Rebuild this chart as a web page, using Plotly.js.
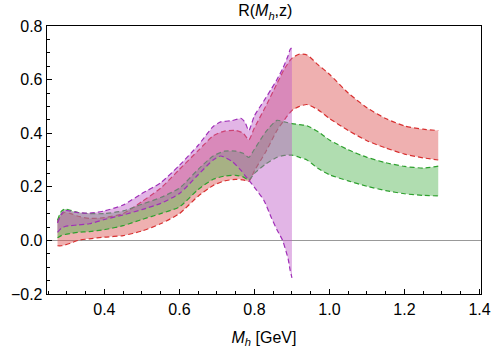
<!DOCTYPE html>
<html>
<head>
<meta charset="utf-8">
<script src="https://cdn.plot.ly/plotly-3.0.1.min.js"></script>
<style>html,body{margin:0;padding:0;background:#fff;}#chart{width:494px;height:353px;}</style>
</head>
<body>
<div id="chart"></div>
<script>
// Band 1 (red) and band 2 (green) share this x grid
const bandX = [0.275,0.285,0.295,0.31,0.33,0.36,0.40,0.45,0.50,0.55,0.60,0.65,0.69,0.72,0.75,0.77,0.785,0.80,0.83,0.86,0.88,0.90,0.92,0.94,0.97,1.00,1.05,1.10,1.15,1.20,1.25,1.29];
const redUpper = [0.07,0.095,0.105,0.10,0.09,0.082,0.085,0.10,0.145,0.195,0.265,0.335,0.39,0.408,0.41,0.40,0.375,0.42,0.50,0.585,0.64,0.68,0.695,0.692,0.655,0.62,0.55,0.495,0.455,0.427,0.415,0.41];
const redLower = [-0.02,-0.02,-0.017,-0.01,0.0,0.006,0.012,0.018,0.035,0.062,0.10,0.165,0.205,0.222,0.228,0.226,0.22,0.26,0.33,0.41,0.45,0.485,0.50,0.507,0.487,0.455,0.41,0.372,0.345,0.322,0.308,0.30];
const greenUpper = [0.075,0.108,0.117,0.112,0.104,0.10,0.10,0.11,0.135,0.16,0.195,0.265,0.315,0.333,0.333,0.325,0.31,0.34,0.405,0.448,0.442,0.436,0.432,0.428,0.405,0.375,0.338,0.31,0.29,0.276,0.27,0.277];
const greenLower = [0.01,0.018,0.022,0.026,0.03,0.033,0.04,0.055,0.078,0.10,0.125,0.19,0.228,0.24,0.243,0.237,0.225,0.25,0.285,0.31,0.317,0.318,0.31,0.30,0.268,0.245,0.222,0.202,0.186,0.174,0.168,0.166];
// Band 3 (purple)
const purpleX = [0.275,0.285,0.295,0.31,0.33,0.36,0.40,0.45,0.50,0.55,0.60,0.65,0.69,0.71,0.74,0.765,0.775,0.785,0.80,0.825,0.845,0.86,0.875,0.89,0.895,0.90];
const purpleUpper = [0.065,0.098,0.112,0.109,0.104,0.102,0.11,0.132,0.175,0.215,0.28,0.355,0.425,0.442,0.447,0.455,0.44,0.41,0.465,0.52,0.565,0.60,0.64,0.69,0.712,0.72];
const purpleLower = [0.03,0.045,0.052,0.055,0.058,0.062,0.078,0.095,0.115,0.138,0.175,0.245,0.30,0.315,0.295,0.26,0.242,0.225,0.198,0.15,0.085,0.04,0.0,-0.07,-0.11,-0.14];

const xTickVals = [0.4,0.6,0.8,1.0,1.2,1.4];
const xTickText = ["0.4","0.6","0.8","1.0","1.2","1.4"];
const yTickVals = [-0.2,0.0,0.2,0.4,0.6,0.8];
const yTickText = ["\u22120.2","0.0","0.2","0.4","0.6","0.8"];

function band(x, lo, hi, lineColor, fillColor) {
  const line = {color: lineColor, width: 1.2, dash: '5px,3px', shape: 'spline', smoothing: 0.6};
  return [
    {x: x, y: lo, type: 'scatter', mode: 'lines', line: line, hoverinfo: 'skip', showlegend: false},
    {x: x, y: hi, type: 'scatter', mode: 'lines', line: line, fill: 'tonexty', fillcolor: fillColor, hoverinfo: 'skip', showlegend: false}
  ];
}

const data = [].concat(
  band(bandX, redLower, redUpper, '#d83030', 'rgba(220,80,80,0.45)'),
  band(bandX, greenLower, greenUpper, '#2ea02e', 'rgba(80,180,80,0.45)'),
  band(purpleX, purpleLower, purpleUpper, '#a030b8', 'rgba(190,90,200,0.45)')
);

const font = {family: '"Liberation Sans", Arial, Helvetica, sans-serif', color: '#000'};

const layout = {
  width: 494, height: 353,
  margin: {l: 47, r: 13, t: 26, b: 59, pad: 0},
  paper_bgcolor: '#fff', plot_bgcolor: '#fff',
  font: Object.assign({size: 16}, font),
  title: {
    text: 'R(<i>M</i><sub><i>h</i></sub>,z)',
    font: Object.assign({size: 16}, font),
    xref: 'container', yref: 'container', x: 0.537, y: 0.97, xanchor: 'center', yanchor: 'middle'
  },
  xaxis: {
    range: [0.247, 1.404],
    tickvals: xTickVals, ticktext: xTickText,
    ticks: 'inside', ticklen: 5, tickwidth: 1, tickcolor: '#000',
    minor: {dtick: 0.05, tick0: 0, ticks: 'inside', ticklen: 3, tickwidth: 1, tickcolor: '#000'},
    showline: true, linecolor: '#000', linewidth: 1.3, mirror: true,
    showgrid: false, zeroline: false,
    tickfont: Object.assign({size: 16}, font),
    title: {text: '<i>M</i><sub><i>h</i></sub> [GeV]', font: Object.assign({size: 16}, font), standoff: 15}
  },
  yaxis: {
    range: [-0.2, 0.8],
    tickvals: yTickVals, ticktext: yTickText,
    ticks: 'inside', ticklen: 5, tickwidth: 1, tickcolor: '#000',
    minor: {dtick: 0.05, tick0: 0, ticks: 'inside', ticklen: 3, tickwidth: 1, tickcolor: '#000'},
    showline: true, linecolor: '#000', linewidth: 1.3, mirror: true,
    showgrid: false, zeroline: true, zerolinecolor: '#999', zerolinewidth: 1,
    tickfont: Object.assign({size: 16}, font)
  }
};

Plotly.newPlot('chart', data, layout, {staticPlot: true, displayModeBar: false});
</script>
</body>
</html>
